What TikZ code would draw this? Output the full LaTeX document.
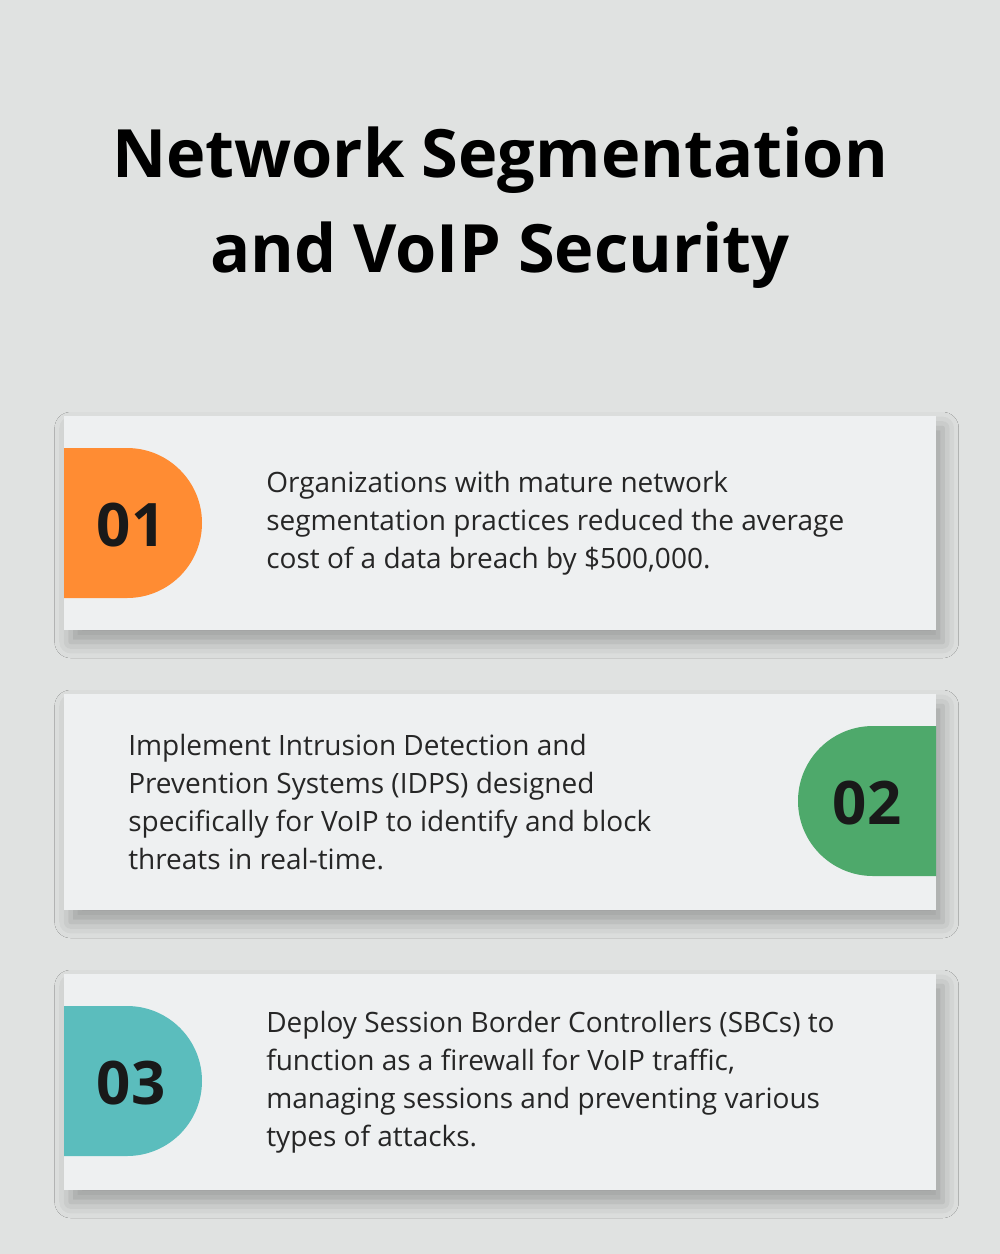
\documentclass[tikz,border=0pt]{standalone}
\usepackage{fontspec}
\setmainfont{Open Sans}
\usetikzlibrary{shadows.blur}
\definecolor{bg}{HTML}{E0E2E1}
\definecolor{card}{HTML}{EEF0F1}
\definecolor{c1}{HTML}{FF8C33}
\definecolor{c2}{HTML}{4EA96B}
\definecolor{c3}{HTML}{5BBDBD}
\tikzset{
 cardbox/.style={fill=card,draw=none,blur shadow={shadow xshift=5pt,shadow yshift=-9pt,shadow opacity=30,shadow blur radius=12pt}},
 numtxt/.style={font=\fontsize{45}{50}\selectfont\bfseries,text=black!90},
 bodytxt/.style={font=\fontsize{21}{28.5}\selectfont,align=left,anchor=west,text=black!85,inner sep=0},
}
\begin{document}
\begin{tikzpicture}[x=0.75pt,y=-0.75pt]
\fill[bg] (0,0) rectangle (1000,1254);
\useasboundingbox (0,0) rectangle (1000,1254);
\node[font=\fontsize{50}{71}\selectfont\bfseries,align=center] (title) at (500,208) {Network Segmentation\\and VoIP Security};
% cards
\path[cardbox] (64,416) rectangle (936,630);
\path[cardbox] (64,694) rectangle (936,910);
\path[cardbox] (64,974) rectangle (936,1190);
% badges
\fill[c1] (64,448) -- (127,448) arc (-90:90:75) -- (64,598) -- cycle;
\fill[c2] (936,726) -- (873,726) arc (-90:-270:75) -- (936,876) -- cycle;
\fill[c3] (64,1006) -- (127,1006) arc (-90:90:75) -- (64,1156) -- cycle;
\node[numtxt] (n1) at (131,525) {01};
\node[numtxt] (n2) at (867,803) {02};
\node[numtxt] (n3) at (131,1083) {03};
\node[bodytxt] (t1) at (266,523) {Organizations with mature network\\segmentation practices reduced the average\\cost of a data breach by \$500,000.};
\node[bodytxt] (t2) at (128,802) {Implement Intrusion Detection and\\Prevention Systems (IDPS) designed\\specifically for VoIP to identify and block\\threats in real-time.};
\node[bodytxt] (t3) at (266,1082) {Deploy Session Border Controllers (SBCs) to\\function as a firewall for VoIP traffic,\\managing sessions and preventing various\\types of attacks.};
\end{tikzpicture}
\end{document}
